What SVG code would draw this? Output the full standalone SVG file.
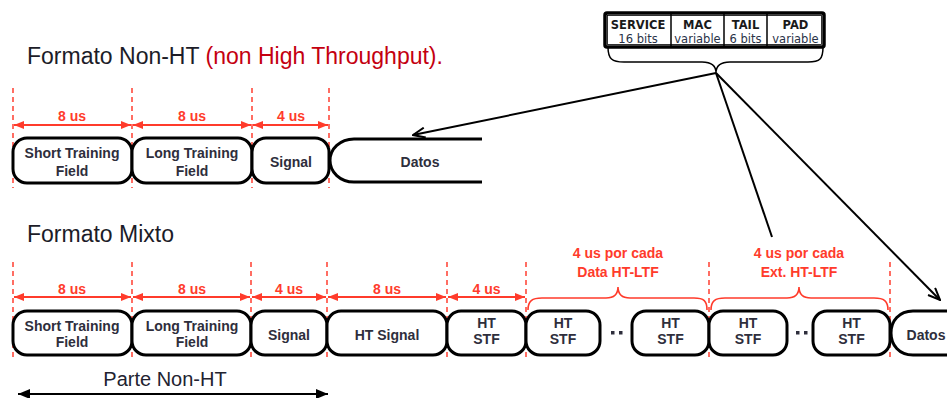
<svg xmlns="http://www.w3.org/2000/svg" width="947" height="398" viewBox="0 0 947 398">
  <style>
    .title { font-family: "Liberation Sans", Arial, sans-serif; font-size: 23px; fill: #1c1c28; }
    .title-red { fill: #c40010; }
    .box { fill: #ffffff; stroke: #000000; stroke-width: 3; }
    .lbl { font-family: "Liberation Sans", Arial, sans-serif; font-size: 14px; font-weight: bold; fill: #2e2e3c; text-anchor: middle; }
    .dim { font-family: "Liberation Sans", Arial, sans-serif; font-size: 14px; font-weight: bold; fill: #ff3b2b; text-anchor: middle; }
    .guide { stroke: #ff4a3d; stroke-width: 1.6; stroke-dasharray: 5 4; fill: none; }
    .dimline { stroke: #ff3b2b; stroke-width: 1.8; marker-start: url(#dimHead); marker-end: url(#dimHead); }
    .brace-red { fill: none; stroke: #ff3b2b; stroke-width: 1.6; }
    .pointer { stroke: #000000; stroke-width: 2; fill: none; }
    .cellb { font-family: "DejaVu Sans", Verdana, sans-serif; font-size: 11.5px; font-weight: bold; fill: #1a1a1a; text-anchor: middle; }
    .cell { font-family: "DejaVu Sans", Verdana, sans-serif; font-size: 11.5px; fill: #2a3348; text-anchor: middle; }
  </style>
  <defs>
    <marker id="dimHead" viewBox="0 0 10 8" refX="10" refY="4" markerWidth="10" markerHeight="8" markerUnits="userSpaceOnUse" orient="auto-start-reverse">
      <path d="M0,0 L10,4 L0,8 z" fill="#ff3b2b"/>
    </marker>
    <marker id="openHead" viewBox="0 0 14 12" refX="13" refY="6" markerWidth="14" markerHeight="12" markerUnits="userSpaceOnUse" orient="auto">
      <path d="M1,1 L13,6 L1,11" fill="none" stroke="#000000" stroke-width="2"/>
    </marker>
    <marker id="spanHead" viewBox="0 0 12 10" refX="12" refY="5" markerWidth="12" markerHeight="10" markerUnits="userSpaceOnUse" orient="auto-start-reverse">
      <path d="M0,0 L12,5 L0,10 z" fill="#000000"/>
    </marker>
  </defs>

  <rect width="947" height="398" fill="#ffffff"/>

  <!-- headings -->
  <text class="title" x="27" y="64">Formato Non-HT <tspan class="title-red">(non High Throughput).</tspan></text>
  <text class="title" x="27" y="242">Formato Mixto</text>

  <!-- data field breakdown -->
  <g id="data-fields">
    <rect x="605" y="13" width="219" height="34" rx="2" fill="#ffffff" stroke="#000000" stroke-width="3.5"/>
    <rect x="607.5" y="15.5" width="214" height="29" fill="none" stroke="#000" stroke-width="0.8"/>
    <line x1="671" y1="14" x2="671" y2="46" stroke="#000" stroke-width="1.5"/>
    <line x1="724" y1="14" x2="724" y2="46" stroke="#000" stroke-width="1.5"/>
    <line x1="767" y1="14" x2="767" y2="46" stroke="#000" stroke-width="1.5"/>
    <text class="cellb" x="638" y="29">SERVICE</text>
    <text class="cell" x="638" y="43">16 bits</text>
    <text class="cellb" x="697.5" y="29">MAC</text>
    <text class="cell" x="697.5" y="43">variable</text>
    <text class="cellb" x="745.5" y="29">TAIL</text>
    <text class="cell" x="745.5" y="43">6 bits</text>
    <text class="cellb" x="795.5" y="29">PAD</text>
    <text class="cell" x="795.5" y="43">variable</text>
    <path d="M608,47 C608,59 612,62 624,62 L702,62 C712,62 716,66 716,73 C716,66 720,62 730,62 L808,62 C820,62 823,59 823,47" fill="none" stroke="#000" stroke-width="1.5"/>
  </g>

  <!-- timing guides, non-HT row -->
  <g id="guides-nonht">
    <line class="guide" x1="13" y1="88" x2="13" y2="188"/>
    <line class="guide" x1="132" y1="88" x2="132" y2="188"/>
    <line class="guide" x1="252" y1="88" x2="252" y2="188"/>
    <line class="guide" x1="329" y1="88" x2="329" y2="188"/>
    <line class="dimline" x1="14" y1="125" x2="131" y2="125"/>
    <line class="dimline" x1="133" y1="125" x2="251" y2="125"/>
    <line class="dimline" x1="253" y1="125" x2="328" y2="125"/>
    <text class="dim" x="72" y="121">8 us</text>
    <text class="dim" x="192" y="121">8 us</text>
    <text class="dim" x="291" y="121">4 us</text>
  </g>

  <!-- non-HT row fields -->
  <g id="nonht-stf">
    <rect class="box" x="13" y="138" width="119" height="45" rx="14"/>
    <text class="lbl" x="72" y="158">Short Training</text>
    <text class="lbl" x="72" y="176">Field</text>
  </g>
  <g id="nonht-ltf">
    <rect class="box" x="132" y="138" width="120" height="45" rx="14"/>
    <text class="lbl" x="192" y="158">Long Training</text>
    <text class="lbl" x="192" y="176">Field</text>
  </g>
  <g id="nonht-signal">
    <rect class="box" x="252" y="138" width="77" height="45" rx="14"/>
    <text class="lbl" x="291" y="167">Signal</text>
  </g>
  <g id="nonht-datos">
    <path d="M482,139 L354,139 C340,139 330,149 330,160.5 C330,172 340,182 354,182 L482,182" fill="none" stroke="#000" stroke-width="3"/>
    <text class="lbl" x="420" y="167">Datos</text>
  </g>

  <!-- timing guides, mixed row -->
  <g id="guides-mixed">
    <line class="guide" x1="13" y1="262" x2="13" y2="358"/>
    <line class="guide" x1="132" y1="262" x2="132" y2="358"/>
    <line class="guide" x1="251" y1="262" x2="251" y2="358"/>
    <line class="guide" x1="327" y1="262" x2="327" y2="358"/>
    <line class="guide" x1="447" y1="262" x2="447" y2="358"/>
    <line class="guide" x1="526" y1="262" x2="526" y2="358"/>
    <line class="guide" x1="709" y1="262" x2="709" y2="358"/>
    <line class="guide" x1="890" y1="262" x2="890" y2="358"/>
    <line class="dimline" x1="14" y1="297" x2="131" y2="297"/>
    <line class="dimline" x1="133" y1="297" x2="250" y2="297"/>
    <line class="dimline" x1="252" y1="297" x2="326" y2="297"/>
    <line class="dimline" x1="328" y1="297" x2="446" y2="297"/>
    <line class="dimline" x1="448" y1="297" x2="525" y2="297"/>
    <text class="dim" x="72" y="294">8 us</text>
    <text class="dim" x="192" y="294">8 us</text>
    <text class="dim" x="289" y="294">4 us</text>
    <text class="dim" x="387" y="294">8 us</text>
    <text class="dim" x="486.5" y="294">4 us</text>
    <path class="brace-red" d="M528,310 C528,301 532,298 542,298 L606,298 C614,298 618,294 618,287 C618,294 622,298 630,298 L694,298 C704,298 707,301 707,310"/>
    <path class="brace-red" d="M711,310 C711,301 715,298 725,298 L787,298 C795,298 799,294 799,287 C799,294 803,298 811,298 L874,298 C884,298 888,301 888,310"/>
    <text class="dim" x="618" y="258">4 us por cada</text>
    <text class="dim" x="618" y="277">Data HT-LTF</text>
    <text class="dim" x="799" y="258">4 us por cada</text>
    <text class="dim" x="799" y="277">Ext. HT-LTF</text>
  </g>

  <!-- mixed row fields -->
  <g id="mixed-stf">
    <rect class="box" x="13" y="311" width="119" height="44" rx="14"/>
    <text class="lbl" x="72" y="331">Short Training</text>
    <text class="lbl" x="72" y="347">Field</text>
  </g>
  <g id="mixed-ltf">
    <rect class="box" x="132" y="311" width="119" height="44" rx="14"/>
    <text class="lbl" x="192" y="331">Long Training</text>
    <text class="lbl" x="192" y="347">Field</text>
  </g>
  <g id="mixed-signal">
    <rect class="box" x="251" y="311" width="76" height="44" rx="14"/>
    <text class="lbl" x="289" y="340">Signal</text>
  </g>
  <g id="mixed-ht-signal">
    <rect class="box" x="327" y="311" width="120" height="44" rx="14"/>
    <text class="lbl" x="387" y="340">HT Signal</text>
  </g>
  <g id="mixed-ht-stf">
    <rect class="box" x="447" y="311" width="79" height="44" rx="14"/>
    <text class="lbl" x="486.5" y="328">HT</text>
    <text class="lbl" x="486.5" y="344">STF</text>
  </g>
  <g id="data-ltf-first">
    <rect class="box" x="526" y="311" width="74" height="44" rx="14"/>
    <text class="lbl" x="563" y="328">HT</text>
    <text class="lbl" x="563" y="344">STF</text>
  </g>
  <g id="data-ltf-gap">
    <rect x="611" y="331" width="3.5" height="3.5" fill="#2e2e3c"/>
    <rect x="619" y="331" width="3.5" height="3.5" fill="#2e2e3c"/>
  </g>
  <g id="data-ltf-last">
    <rect class="box" x="632" y="311" width="77" height="44" rx="14"/>
    <text class="lbl" x="670.5" y="328">HT</text>
    <text class="lbl" x="670.5" y="344">STF</text>
  </g>
  <g id="ext-ltf-first">
    <rect class="box" x="709" y="311" width="78" height="44" rx="14"/>
    <text class="lbl" x="748" y="328">HT</text>
    <text class="lbl" x="748" y="344">STF</text>
  </g>
  <g id="ext-ltf-gap">
    <rect x="796" y="331" width="3.5" height="3.5" fill="#2e2e3c"/>
    <rect x="804" y="331" width="3.5" height="3.5" fill="#2e2e3c"/>
  </g>
  <g id="ext-ltf-last">
    <rect class="box" x="813" y="311" width="77" height="44" rx="14"/>
    <text class="lbl" x="851.5" y="328">HT</text>
    <text class="lbl" x="851.5" y="344">STF</text>
  </g>
  <g id="mixed-datos">
    <path d="M950,311 L913,311 C899,311 891,321 891,333 C891,345 899,355 913,355 L950,355" fill="none" stroke="#000" stroke-width="3"/>
    <text class="lbl" x="926" y="340">Datos</text>
  </g>

  <!-- non-HT span -->
  <g id="nonht-span">
    <text x="165" y="386" font-family="Liberation Sans, Arial, sans-serif" font-size="20" fill="#222230" text-anchor="middle">Parte Non-HT</text>
    <line x1="18" y1="394" x2="328" y2="394" stroke="#000" stroke-width="1.8" marker-start="url(#spanHead)" marker-end="url(#spanHead)"/>
  </g>

  <!-- connectors from the data field brace -->
  <g id="connectors">
    <line class="pointer" x1="716" y1="73" x2="413" y2="135" marker-end="url(#openHead)"/>
    <line class="pointer" x1="716" y1="73" x2="772" y2="237"/>
    <line class="pointer" x1="716" y1="73" x2="940" y2="300" marker-end="url(#openHead)"/>
  </g>
</svg>
